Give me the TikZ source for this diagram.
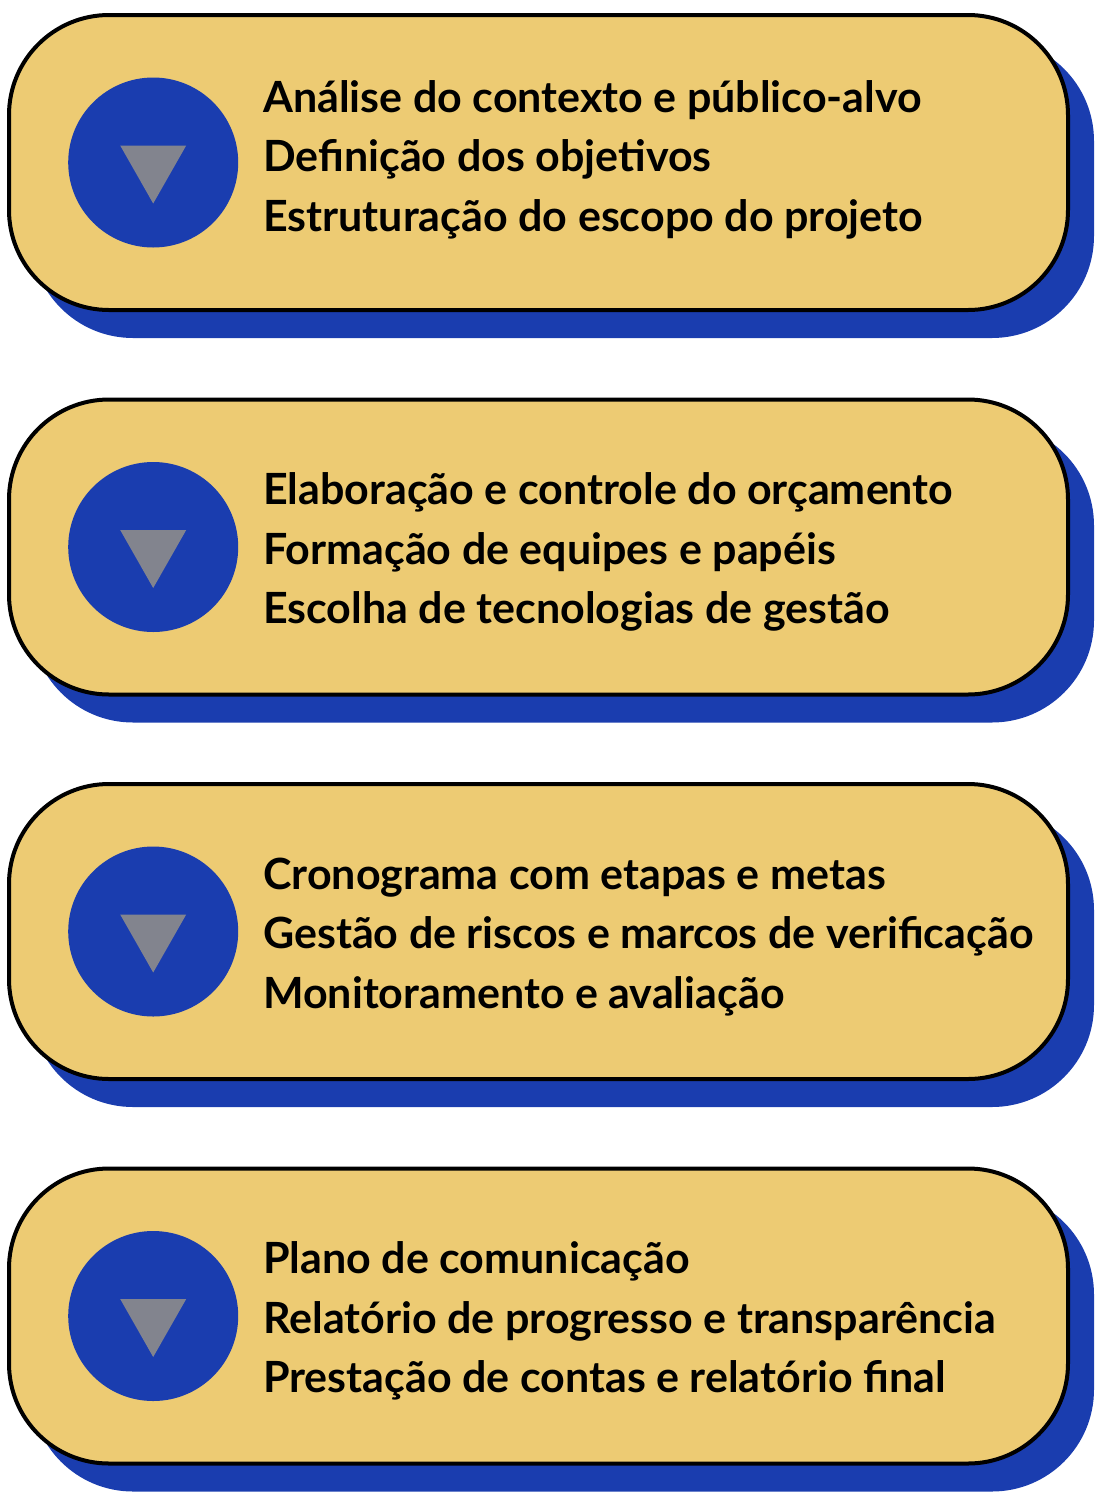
\documentclass[tikz,border=0pt]{standalone}
\usepackage{fontspec}
\setmainfont{Lato}
\usepackage{xcolor}
\definecolor{BOXCOLOR}{HTML}{EDCB73}
\definecolor{SHADOWCOLOR}{HTML}{1A3DAF}
\definecolor{MARKCOLOR}{HTML}{82848E}
\usetikzlibrary{positioning,calc}
\tikzset{
  box-style/.style = {
    rectangle, rounded corners=100pt, draw=black, line width=4pt,
    fill=BOXCOLOR,
    minimum width=1059pt,
    minimum height=295pt,
    inner sep=0pt
  },
  shadow-style/.style = {
    box-style, draw=SHADOWCOLOR, fill=SHADOWCOLOR
  },
  circle-style/.style = {
    circle, fill=SHADOWCOLOR, minimum size=170pt, inner sep=0pt
  },
  mark-style/.style = {
    fill=MARKCOLOR
  },
  line-style/.style = {
    anchor=base west, inner sep=0pt,
    font=\fontsize{43}{50}\selectfont\bfseries
  }
}
\def\lineDistance{59.5}
\def\createStep name:#1 at:#2 raise:#3 first:#4 second:#5 third:#6;{
  \node [shadow-style] (#1-shadow) at ($(#2)+(24,26)$) {};
  \node [box-style] (#1) at (#2) {};
  \node [circle-style, right=61pt of #1.west] (#1-circle) {};
  \fill [mark-style] ($(#1-circle)+(-33,-17)$) -- ($(#1-circle)+(33,-17)$)
        -- ($(#1-circle)+(0,41)$) -- cycle;
  \node [line-style] (#1-a) at ($(#1.center)+(-275.5,-#3)$) {#4};
  \node [line-style] (#1-b) at ($(#1-a.base west)+(0,\lineDistance)$) {#5};
  \node [line-style] (#1-c) at ($(#1-b.base west)+(0,\lineDistance)$) {#6};
}
\begin{document}
\begin{tikzpicture}[x=1pt,y=-1pt]
  \useasboundingbox (0,0) rectangle (1100,1500);
  \createStep name:context at:{538.5,162.5} raise:50.5
    first:{Análise do contexto e público-alvo}
    second:{Definição dos objetivos}
    third:{Estruturação do escopo do projeto};
  \createStep name:budget at:{538.5,547} raise:42.5
    first:{Elaboração e controle do orçamento}
    second:{Formação de equipes e papéis}
    third:{Escolha de tecnologias de gestão};
  \createStep name:schedule at:{538.5,931.5} raise:42.5
    first:{Cronograma com etapas e metas}
    second:{Gestão de riscos e marcos de verificação}
    third:{Monitoramento e avaliação};
  \createStep name:report at:{538.5,1316} raise:42.5
    first:{Plano de comunicação}
    second:{Relatório de progresso e transparência}
    third:{Prestação de contas e relatório final};
\end{tikzpicture}
\end{document}
